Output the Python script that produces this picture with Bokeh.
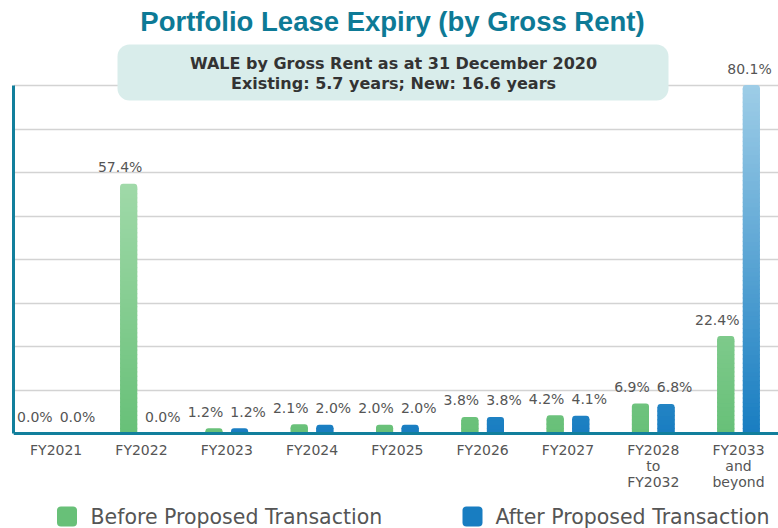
from bokeh.plotting import figure
from bokeh.models import Range1d, FixedTicker, BoxAnnotation, Label, Span
from bokeh.core.properties import value
from bokeh.embed import file_html
from bokeh.resources import INLINE

# ---------------- data ----------------
categories = ["FY2021", "FY2022", "FY2023", "FY2024", "FY2025", "FY2026",
              "FY2027", "FY2028\nto\nFY2032", "FY2033\nand\nbeyond"]
before = [0.0, 57.4, 1.2, 2.1, 2.0, 3.8, 4.2, 6.9, 22.4]
after = [0.0, 0.0, 1.2, 2.0, 2.0, 3.8, 4.1, 6.8, 80.1]
series_names = ["Before Proposed Transaction", "After Proposed Transaction"]
y_ticks = [0, 10, 20, 30, 40, 50, 60, 70, 80]
title_text = "Portfolio Lease Expiry (by Gross Rent)"
box_lines = ["WALE by Gross Rent as at 31 December 2020",
             "Existing: 5.7 years; New: 16.6 years"]

# ---------------- styling / layout helpers ----------------
W, H = 778, 528
PX_X = 85.3          # px per category
PX_Y = 4.35          # px per percent
FRAME_LEFT = 13
ZERO_Y = 433

def X(px):
    return (px - FRAME_LEFT) / PX_X

def Y(py):
    return (ZERO_Y - py) / PX_Y

TEAL = "#127f9c"
GREEN_LO, GREEN_HI = (104, 192, 120), (182, 227, 188)
BLUE_LO, BLUE_HI = (24, 125, 193), (158, 205, 231)
TXT = "#555555"
FONT = "DejaVu Sans"

def lerp(c0, c1, t):
    t = max(0.0, min(1.0, t))
    return "#%02x%02x%02x" % tuple(int(round(a + (b - a) * t)) for a, b in zip(c0, c1))

p = figure(width=W, height=H,
           x_range=Range1d(0, X(W)), y_range=Range1d(Y(H), Y(0)),
           x_axis_location=None, y_axis_location="left",
           output_backend="svg", toolbar_location=None,
           min_border_left=FRAME_LEFT, min_border_right=0, min_border_top=0, min_border_bottom=0)
p.outline_line_color = None
p.background_fill_color = "white"
p.border_fill_color = "white"
p.xgrid.visible = False

# y axis: only a line from 0 to 80
yax = p.yaxis[0]
yax.ticker = FixedTicker(ticks=y_ticks)
yax.bounds = (0, 80)
yax.axis_line_color = TEAL
yax.axis_line_width = 3
yax.major_tick_line_color = None
yax.minor_tick_line_color = None
yax.major_tick_in = 0
yax.major_tick_out = 0
yax.major_label_standoff = 0
yax.major_label_text_font_size = "0px"
yax.major_label_overrides = {t: "" for t in y_ticks}

p.ygrid.ticker = FixedTicker(ticks=y_ticks)
p.ygrid.grid_line_color = "#d3d3d3"
p.ygrid.grid_line_width = 1.5

n = len(categories)
centers = [i + 0.5 for i in range(n)]
off = 0.15
bw = 0.2

# bars (solid, colour = colour at top), then gradient bands over them
for vals, lo, hi, sgn in ((before, GREEN_LO, GREEN_HI, -1), (after, BLUE_LO, BLUE_HI, 1)):
    xs = [c + sgn * off for c in centers]
    tops_col = [lerp(lo, hi, v / 80.0) for v in vals]
    p.vbar(x=xs, top=vals, bottom=0, width=bw, fill_color=tops_col,
           line_color=None, border_radius=(3, 3, 0, 0))
    bx, bb, bt, bc = [], [], [], []
    step = 1.0
    for x, v in zip(xs, vals):
        lim = v - 0.7
        k = 0.0
        while k < lim:
            t = min(k + step, lim)
            bx.append(x); bb.append(k); bt.append(min(t + 0.3, lim))
            bc.append(lerp(lo, hi, (k + t) / 2 / 80.0))
            k = t
    p.vbar(x=bx, bottom=bb, top=bt, width=bw, fill_color=bc, line_color=None)

# x axis line
p.add_layout(Span(location=0, dimension="width", line_color=TEAL, line_width=3))

# value labels (kept inside the right edge)
lab_off = 0.25
x_max_label = X(W - 29)
for vals, sgn in ((before, -1), (after, 1)):
    p.text(x=[min(c + sgn * lab_off, x_max_label) for c in centers],
           y=[v + 3.8 for v in vals],
           text=["%.1f%%" % v for v in vals],
           text_align="center", text_baseline="middle",
           text_font=value(FONT), text_font_size="14px", text_color=TXT)

# category labels
p.text(x=centers, y=[Y(441)] * n, text=categories,
       text_align="center", text_baseline="top", text_line_height=1.0,
       text_font=value(FONT), text_font_size="14px", text_color=TXT)

# title
p.add_layout(Label(x=X(392), y=Y(21), text=title_text, text_align="center",
                   text_baseline="middle", text_font="Liberation Sans",
                   text_font_style="bold", text_font_size="27.5px", text_color="#0d7a96"))

# WALE box
p.add_layout(BoxAnnotation(left=X(117), right=X(668), top=Y(44), bottom=Y(100),
                           fill_color="#d9edeb", fill_alpha=1.0, line_color=None,
                           border_radius=12))
for line, py in zip(box_lines, (63, 83)):
    p.add_layout(Label(x=X(393), y=Y(py), text=line, text_align="center",
                       text_baseline="middle", text_font=FONT, text_font_style="bold",
                       text_font_size="16px", text_color="#333333"))

# legend (manual)
leg_y = Y(516)
p.rect(x=[X(66.5), X(472)], y=[leg_y, leg_y], width=20, height=20,
       width_units="screen", height_units="screen",
       fill_color=[lerp(GREEN_LO, GREEN_HI, 0), lerp(BLUE_LO, BLUE_HI, 0)],
       line_color=None, border_radius=4)
p.text(x=[X(90), X(495)], y=[leg_y, leg_y], text=series_names,
       text_align="left", text_baseline="middle",
       text_font=value(FONT), text_font_size="20.5px", text_color=TXT)

open("out.html", "w").write(file_html(p, INLINE))
